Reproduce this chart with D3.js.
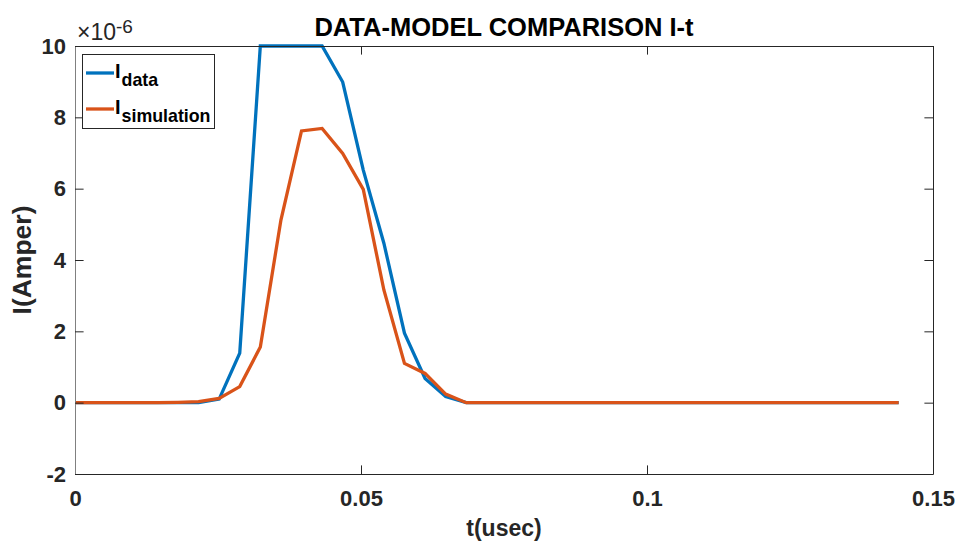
<!DOCTYPE html>
<html>
<head>
<meta charset="utf-8">
<script src="https://cdn.jsdelivr.net/npm/d3@7"></script>
<style>
html,body{margin:0;padding:0;background:#fff;}
svg{display:block;font-family:"Liberation Sans",Arial,sans-serif;}
</style>
</head>
<body>
<svg id="chart" width="960" height="543"></svg>
<script>
// time in usec
const tValues = [0,0.0036,0.0072,0.0108,0.0144,0.018,0.0216,0.0252,0.0288,0.0324,
  0.036,0.0396,0.0432,0.0468,0.0504,0.054,0.0576,0.0612,0.0648,0.0684,
  0.072,0.0756,0.0792,0.0828,0.0864,0.09,0.0936,0.0972,0.1008,0.1044,
  0.108,0.1116,0.1152,0.1188,0.1224,0.126,0.1296,0.1332,0.1368,0.1404,0.144];
// current in units of 1e-6 A
const iData = [0,0,0,0,0,0,0,0.1,1.39,10,
  10,10,10,8.99,6.52,4.47,1.95,0.68,0.17,0,
  0,0,0,0,0,0,0,0,0,0,
  0,0,0,0,0,0,0,0,0,0,0];
const iSimulation = [0,0,0,0,0,0.01,0.03,0.12,0.45,1.56,
  5.12,7.62,7.69,6.99,5.98,3.16,1.1,0.82,0.24,0,
  0,0,0,0,0,0,0,0,0,0,
  0,0,0,0,0,0,0,0,0,0,0];
const xTicks = [0,0.05,0.1,0.15];
const xTickLabels = ["0","0.05","0.1","0.15"];
const yTicks = [-2,0,2,4,6,8,10];
const yTickLabels = ["-2","0","2","4","6","8","10"];
const seriesNames = ["data","simulation"];
const seriesColors = ["#0072BD","#D95319"];

const svg = d3.select("#chart");
const L = 75, R = 933, T = 46, B = 474;
const x = d3.scaleLinear().domain([0,0.15]).range([L,R]);
const y = d3.scaleLinear().domain([-2,10]).range([B,T]);
const axisColor = "#262626";

svg.append("defs").append("clipPath").attr("id","clip")
  .append("rect").attr("x",L).attr("y",T-2).attr("width",R-L).attr("height",B-T+4);

const line = d3.line().x((d,i)=>x(tValues[i])).y(d=>y(d));
const g = svg.append("g").attr("clip-path","url(#clip)");
[iData,iSimulation].forEach((s,k)=>{
  g.append("path").datum(s).attr("d",line)
    .attr("fill","none").attr("stroke",seriesColors[k])
    .attr("stroke-width",3.3).attr("stroke-linejoin","miter");
});

const tickLen = 8.6;
const fmtStyle = sel => sel.selectAll("text")
  .attr("fill",axisColor).style("font-size","22px").style("font-weight","bold")
  .style("font-family","'Liberation Sans',Arial,sans-serif");

const xb = svg.append("g").attr("transform",`translate(0,${B})`)
  .call(d3.axisBottom(x).tickValues(xTicks).tickFormat((d,i)=>xTickLabels[i]).tickSizeInner(-tickLen).tickSizeOuter(0).tickPadding(16));
xb.select(".domain").attr("stroke",axisColor);
xb.selectAll(".tick line").attr("stroke",axisColor);
fmtStyle(xb);
const xt = svg.append("g").attr("transform",`translate(0,${T})`)
  .call(d3.axisTop(x).tickValues(xTicks).tickFormat("").tickSizeInner(-tickLen).tickSizeOuter(0));
xt.select(".domain").attr("stroke",axisColor);
xt.selectAll(".tick line").attr("stroke",axisColor);
const yl = svg.append("g").attr("transform",`translate(${L},0)`)
  .call(d3.axisLeft(y).tickValues(yTicks).tickFormat((d,i)=>yTickLabels[i]).tickSizeInner(-tickLen).tickSizeOuter(0).tickPadding(9));
yl.select(".domain").attr("stroke","#808080");
yl.selectAll(".tick line").attr("stroke",axisColor);
fmtStyle(yl);
const yr = svg.append("g").attr("transform",`translate(${R},0)`)
  .call(d3.axisRight(y).tickValues(yTicks).tickFormat("").tickSizeInner(-tickLen).tickSizeOuter(0));
yr.select(".domain").attr("stroke",axisColor);
yr.selectAll(".tick line").attr("stroke",axisColor);

// exponent label
const ex = svg.append("text").attr("x",77).attr("y",40)
  .attr("fill",axisColor).style("font-size","23px");
ex.append("tspan").text("×10");
ex.append("tspan").attr("dy",-7).style("font-size","19px").text("-6");

// title
svg.append("text").attr("x",(L+R)/2).attr("y",36).attr("text-anchor","middle")
  .attr("fill","#000").style("font-size","25.5px").style("font-weight","bold")
  .text("DATA-MODEL COMPARISON I-t");

// axis labels
svg.append("text").attr("x",(L+R)/2).attr("y",536).attr("text-anchor","middle")
  .attr("fill",axisColor).style("font-size","23px").style("font-weight","bold").text("t(usec)");
svg.append("text").attr("transform",`translate(31,${(T+B)/2}) rotate(-90)`)
  .attr("text-anchor","middle").attr("fill",axisColor)
  .style("font-size","26.5px").style("font-weight","bold").text("I(Amper)");

// legend
const lg = svg.append("g");
lg.append("rect").attr("x",82.5).attr("y",54.5).attr("width",132).attr("height",74)
  .attr("fill","#fff").attr("stroke","#262626").attr("stroke-width",1);
seriesNames.forEach((n,k)=>{
  const yy = 73 + k*36;
  lg.append("line").attr("x1",86).attr("x2",114).attr("y1",yy).attr("y2",yy)
    .attr("stroke",seriesColors[k]).attr("stroke-width",3.3);
  const t = lg.append("text").attr("x",115).attr("y",yy+5)
    .attr("fill","#000").style("font-weight","bold");
  t.append("tspan").style("font-size","20px").text("I");
  t.append("tspan").attr("dy",8).attr("dx",1).style("font-size","17.8px").text(n);
});
</script>
</body>
</html>
